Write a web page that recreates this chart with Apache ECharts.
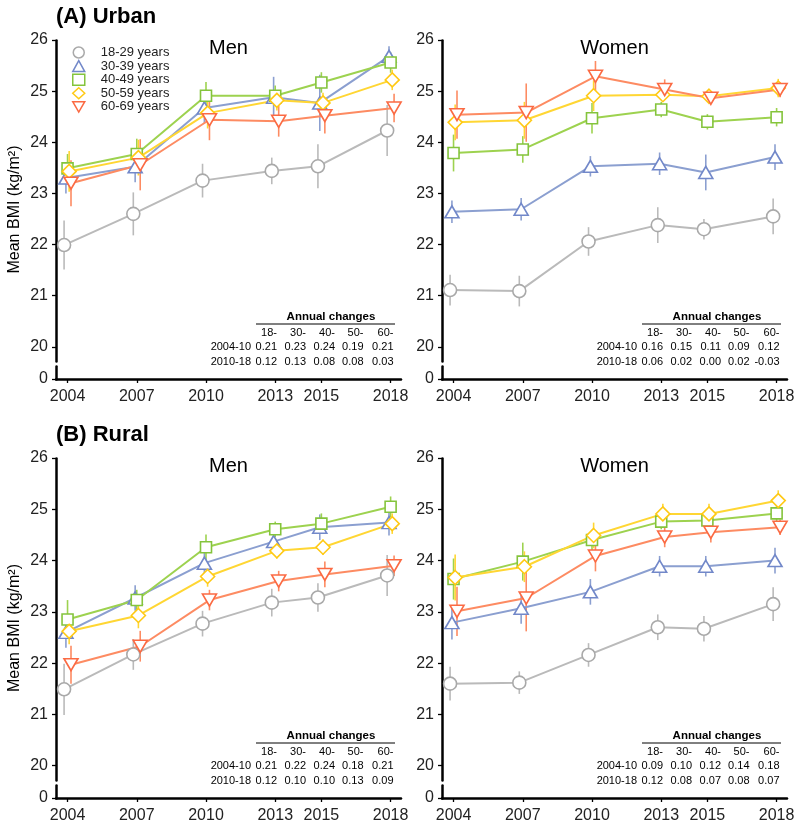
<!DOCTYPE html>
<html>
<head>
<meta charset="utf-8">
<script src="https://cdn.jsdelivr.net/npm/echarts@6.0.0/dist/echarts.min.js"></script>
<style>
html, body { margin: 0; padding: 0; background: #fff; }
#main { width: 800px; height: 826px; }
</style>
</head>
<body>
<div id="main"></div>
<script>
var years = [2004, 2007, 2010, 2013, 2015, 2018];
var groups = ['18-29 years', '30-39 years', '40-49 years', '50-59 years', '60-69 years'];
var ageHeads = ['18-', '30-', '40-', '50-', '60-'];
var periods = ['2004-10', '2010-18'];
var yTicks = [0, 20, 21, 22, 23, 24, 25, 26];

// mean BMI, one row per age group (18-29 ... 60-69), columns = years
var urbanMen = [
    [21.99, 22.60, 23.25, 23.44, 23.53, 24.23],
    [23.30, 23.52, 24.67, 24.88, 24.77, 25.68],
    [23.49, 23.77, 24.91, 24.91, 25.17, 25.56],
    [23.43, 23.70, 24.57, 24.82, 24.77, 25.22],
    [23.20, 23.56, 24.44, 24.41, 24.52, 24.67]
];
// half width of the 95% CI
var urbanMenCI = [
    [0.48, 0.42, 0.33, 0.26, 0.43, 0.50],
    [0.30, 0.30, 0.30, 0.40, 0.55, 0.20],
    [0.28, 0.30, 0.27, 0.20, 0.20, 0.20],
    [0.40, 0.35, 0.30, 0.20, 0.20, 0.20],
    [0.45, 0.50, 0.40, 0.30, 0.35, 0.28]
];
var urbanWomen = [
    [21.11, 21.09, 22.06, 22.38, 22.30, 22.55],
    [22.64, 22.69, 23.53, 23.58, 23.41, 23.71],
    [23.79, 23.86, 24.47, 24.64, 24.40, 24.49],
    [24.39, 24.43, 24.91, 24.93, 24.90, 25.06],
    [24.54, 24.58, 25.29, 25.03, 24.86, 25.03]
];
var urbanWomenCI = [
    [0.30, 0.30, 0.28, 0.35, 0.20, 0.35],
    [0.22, 0.22, 0.20, 0.22, 0.35, 0.25],
    [0.36, 0.26, 0.30, 0.15, 0.15, 0.18],
    [0.35, 0.36, 0.30, 0.10, 0.10, 0.18],
    [0.47, 0.57, 0.30, 0.20, 0.10, 0.15]
];
var ruralMen = [
    [21.49, 22.17, 22.77, 23.18, 23.28, 23.71],
    [22.60, 23.27, 23.95, 24.37, 24.65, 24.74],
    [22.85, 23.23, 24.26, 24.61, 24.72, 25.05],
    [22.62, 22.93, 23.69, 24.19, 24.26, 24.72],
    [21.97, 22.33, 23.23, 23.60, 23.73, 23.90]
];
var ruralMenCI = [
    [0.50, 0.30, 0.25, 0.27, 0.28, 0.40],
    [0.30, 0.25, 0.20, 0.20, 0.25, 0.25],
    [0.38, 0.20, 0.25, 0.15, 0.20, 0.20],
    [0.25, 0.25, 0.20, 0.15, 0.15, 0.20],
    [0.37, 0.30, 0.20, 0.20, 0.25, 0.20]
];
var ruralWomen = [
    [21.60, 21.62, 22.16, 22.70, 22.67, 23.15],
    [22.79, 23.07, 23.39, 23.89, 23.89, 24.00],
    [23.64, 23.98, 24.40, 24.76, 24.78, 24.92],
    [23.67, 23.88, 24.49, 24.91, 24.91, 25.17],
    [23.01, 23.27, 24.09, 24.46, 24.55, 24.65]
];
var ruralWomenCI = [
    [0.33, 0.22, 0.23, 0.25, 0.25, 0.33],
    [0.33, 0.30, 0.25, 0.20, 0.20, 0.25],
    [0.40, 0.37, 0.20, 0.15, 0.15, 0.15],
    [0.45, 0.30, 0.25, 0.20, 0.20, 0.20],
    [0.48, 0.65, 0.30, 0.20, 0.20, 0.15]
];

// annual changes (rows = periods, cols = age groups)
var urbanMenChange = [[0.21, 0.23, 0.24, 0.19, 0.21], [0.12, 0.13, 0.08, 0.08, 0.03]];
var urbanWomenChange = [[0.16, 0.15, 0.11, 0.09, 0.12], [0.06, 0.02, 0.00, 0.02, -0.03]];
var ruralMenChange = [[0.21, 0.22, 0.24, 0.18, 0.21], [0.12, 0.10, 0.10, 0.13, 0.09]];
var ruralWomenChange = [[0.09, 0.10, 0.12, 0.14, 0.18], [0.12, 0.08, 0.07, 0.08, 0.07]];

var lineColors = ['#bababa', '#8b9fd0', '#9dd24f', '#ffd633', '#fd8b62'];
var markColors = ['#a9a9a9', '#7288c9', '#84c43c', '#ffc914', '#fb6a43'];
var invTri = 'path://M0,0 L10,0 L5,8.66 Z';
var symbols = ['circle', 'triangle', 'rect', 'diamond', invTri];
var symSizes = [13, [14, 12], 11, 14, [14, 12]];
var legendIcons = ['circle', 'triangle', 'rect', 'diamond', invTri];
var dodge = [-0.15, -0.07, 0, 0.07, 0.15];
var FONT = '"Liberation Sans", Arial, Helvetica, sans-serif';

var panels = [
    {mean: urbanMen, ci: urbanMenCI, change: urbanMenChange, left: 56, top: 40, height: 339, title: 'Men', yName: true},
    {mean: urbanWomen, ci: urbanWomenCI, change: urbanWomenChange, left: 442, top: 40, height: 339, title: 'Women', yName: false},
    {mean: ruralMen, ci: ruralMenCI, change: ruralMenChange, left: 56, top: 458, height: 340, title: 'Men', yName: true},
    {mean: ruralWomen, ci: ruralWomenCI, change: ruralWomenChange, left: 442, top: 458, height: 340, title: 'Women', yName: false}
];
var gridW = 345;

var grids = [], xAxes = [], yAxes = [], series = [], graphics = [];

graphics.push({type: 'text', x: 56, y: 17, z: 50, style: {text: '(A) Urban', fontFamily: FONT, fontSize: 22, fontWeight: 'bold', fill: '#000', verticalAlign: 'middle'}});
graphics.push({type: 'text', x: 56, y: 435, z: 50, style: {text: '(B) Rural', fontFamily: FONT, fontSize: 22, fontWeight: 'bold', fill: '#000', verticalAlign: 'middle'}});

panels.forEach(function (p, k) {
    grids.push({left: p.left, top: p.top, width: gridW, height: p.height, containLabel: false, outerBoundsMode: 'none'});
    xAxes.push({
        gridIndex: k, type: 'value', min: 2003.5, max: 2018.45,
        axisLine: {onZero: false, lineStyle: {color: '#000', width: 2.5}},
        axisTick: {show: true, customValues: years, length: 4, lineStyle: {color: '#000', width: 1.3}},
        axisLabel: {customValues: years, fontSize: 16, color: '#222', margin: 10, fontFamily: FONT,
            formatter: function (v) { return String(v); }},
        splitLine: {show: false}
    });
    yAxes.push({
        gridIndex: k, type: 'value', min: 0, max: 26,
        breaks: [{start: 0.25, end: 19.72, gap: '1.5%'}],
        breakArea: {show: true, expandOnClick: false, zigzagAmplitude: 2,
            itemStyle: {color: 'rgba(255,255,255,0)', borderColor: 'rgba(0,0,0,0)', borderWidth: 0}},
        axisLine: {show: true, onZero: false, lineStyle: {color: '#000', width: 2.5}},
        axisTick: {show: true, customValues: yTicks, length: 4, lineStyle: {color: '#000', width: 1.3}},
        axisLabel: {customValues: yTicks, fontSize: 16, color: '#222', margin: 8, fontFamily: FONT,
            formatter: function (v) { return String(v); }},
        splitLine: {show: false},
        name: p.yName ? 'Mean BMI (kg/m\u00b2)' : '',
        nameLocation: 'middle', nameGap: 33,
        nameTextStyle: {fontSize: 16, color: '#000', fontFamily: FONT}
    });

    // error bars
    p.mean.forEach(function (m, g) {
        var e = p.ci[g];
        series.push({
            type: 'custom', xAxisIndex: k, yAxisIndex: k, silent: true, z: 2,
            renderItem: function (params, api) {
                var a = api.coord([api.value(0), api.value(1)]);
                var b = api.coord([api.value(0), api.value(2)]);
                return {type: 'line', shape: {x1: a[0], y1: a[1], x2: b[0], y2: b[1]},
                    style: {stroke: lineColors[g], lineWidth: 1.6}};
            },
            data: years.map(function (y, i) { return [y + dodge[g], m[i] - e[i], m[i] + e[i]]; })
        });
    });
    // means
    p.mean.forEach(function (m, g) {
        series.push({
            type: 'line', name: groups[g], xAxisIndex: k, yAxisIndex: k, z: 3,
            clip: false, silent: true,
            symbol: symbols[g], symbolSize: symSizes[g], showAllSymbol: true,
            lineStyle: {color: lineColors[g], width: 2},
            itemStyle: {color: '#fff', borderColor: markColors[g], borderWidth: 1.6},
            data: years.map(function (y, i) { return [y + dodge[g], m[i]]; })
        });
    });

    // panel title
    graphics.push({type: 'text', x: p.left + gridW / 2, y: p.top + 8, z: 50,
        style: {text: p.title, fontFamily: FONT, fontSize: 20, fill: '#000', align: 'center', verticalAlign: 'middle'}});

    // annual changes table
    var y0 = p.top + p.height;
    var cols = [221, 250, 279, 307.5, 337.5];
    graphics.push({type: 'text', x: p.left + 275, y: y0 - 62, z: 50,
        style: {text: 'Annual changes', fontFamily: FONT, fontSize: 11.5, fontWeight: 'bold', fill: '#000', align: 'center', verticalAlign: 'middle'}});
    graphics.push({type: 'line', z: 50, shape: {x1: p.left + 200, y1: y0 - 55, x2: p.left + 339, y2: y0 - 55},
        style: {stroke: '#000', lineWidth: 1}});
    ageHeads.forEach(function (h, c) {
        graphics.push({type: 'text', x: p.left + cols[c], y: y0 - 46.5, z: 50,
            style: {text: h, fontFamily: FONT, fontSize: 11, fill: '#000', align: 'right', verticalAlign: 'middle'}});
    });
    periods.forEach(function (per, r) {
        var yy = y0 - 32 + r * 14.7;
        graphics.push({type: 'text', x: p.left + 195, y: yy, z: 50,
            style: {text: per, fontFamily: FONT, fontSize: 11, fill: '#000', align: 'right', verticalAlign: 'middle'}});
        p.change[r].forEach(function (v, c) {
            graphics.push({type: 'text', x: p.left + cols[c], y: yy, z: 50,
                style: {text: v.toFixed(2), fontFamily: FONT, fontSize: 11, fill: '#000', align: 'right', verticalAlign: 'middle'}});
        });
    });
});

var option = {
    backgroundColor: '#fff',
    animation: false,
    textStyle: {fontFamily: FONT},
    legend: {
        orient: 'vertical', left: 67, top: 41, itemWidth: 12, itemHeight: 11, itemGap: 0.6,
        selectedMode: false,
        textStyle: {fontSize: 13, color: '#222', fontFamily: FONT, padding: [0, 0, 0, 11]},
        data: groups.map(function (g, i) {
            return {name: g, icon: legendIcons[i],
                itemStyle: {color: '#fff', borderColor: markColors[i], borderWidth: 1.5}};
        })
    },
    grid: grids,
    xAxis: xAxes,
    yAxis: yAxes,
    series: series,
    graphic: graphics
};

var chart = echarts.init(document.getElementById('main'));
chart.setOption(option);
</script>
</body>
</html>
